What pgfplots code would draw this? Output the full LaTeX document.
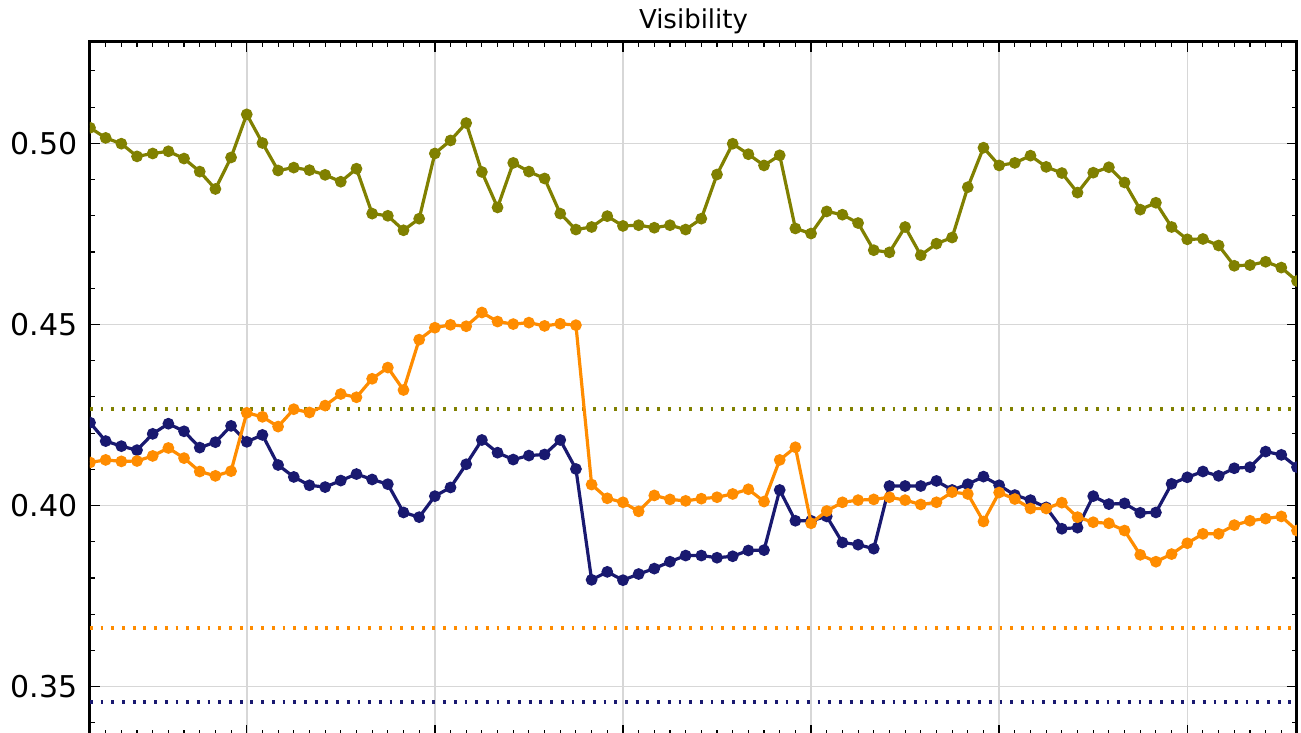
\documentclass[border=0pt]{standalone}
\usepackage{fontspec}
\setmainfont{DejaVu Sans}
\usepackage{pgfplots}
\usepackage{pgfplotstable}
\pgfplotsset{compat=1.18}
\definecolor{cOlive}{RGB}{128,128,0}
\definecolor{cNavy}{RGB}{25,25,112}
\definecolor{cOrange}{RGB}{255,140,0}
\definecolor{cGrid}{RGB}{215,215,215}
\pgfplotstableread{
x o n r
0 0.5043 0.4229 0.4119
1 0.5015 0.4178 0.4126
2 0.4999 0.4164 0.4122
3 0.4964 0.4153 0.4123
4 0.4972 0.4198 0.4137
5 0.4978 0.4226 0.4159
6 0.4958 0.4205 0.4131
7 0.4922 0.4160 0.4094
8 0.4874 0.4175 0.4082
9 0.4961 0.4220 0.4095
10 0.5080 0.4176 0.4256
11 0.5001 0.4195 0.4245
12 0.4925 0.4112 0.4218
13 0.4933 0.4079 0.4266
14 0.4926 0.4056 0.4257
15 0.4913 0.4051 0.4276
16 0.4894 0.4069 0.4308
17 0.4930 0.4087 0.4299
18 0.4806 0.4072 0.4350
19 0.4800 0.4059 0.4381
20 0.4760 0.3981 0.4319
21 0.4792 0.3968 0.4458
22 0.4972 0.4026 0.4491
23 0.5008 0.4050 0.4499
24 0.5056 0.4114 0.4495
25 0.4921 0.4181 0.4533
26 0.4823 0.4146 0.4508
27 0.4946 0.4127 0.4501
28 0.4922 0.4138 0.4505
29 0.4903 0.4141 0.4496
30 0.4806 0.4181 0.4502
31 0.4762 0.4101 0.4498
32 0.4769 0.3795 0.4058
33 0.4799 0.3817 0.4020
34 0.4772 0.3794 0.4009
35 0.4774 0.3811 0.3984
36 0.4767 0.3826 0.4028
37 0.4774 0.3845 0.4017
38 0.4762 0.3862 0.4013
39 0.4792 0.3862 0.4019
40 0.4914 0.3856 0.4023
41 0.4999 0.3860 0.4032
42 0.4970 0.3876 0.4045
43 0.4939 0.3877 0.4011
44 0.4967 0.4043 0.4126
45 0.4765 0.3958 0.4161
46 0.4751 0.3958 0.3951
47 0.4812 0.3970 0.3985
48 0.4803 0.3898 0.4009
49 0.4780 0.3892 0.4015
50 0.4705 0.3881 0.4017
51 0.4699 0.4054 0.4023
52 0.4769 0.4054 0.4015
53 0.4691 0.4054 0.4003
54 0.4723 0.4068 0.4009
55 0.4740 0.4043 0.4037
56 0.4879 0.4059 0.4032
57 0.4988 0.4080 0.3956
58 0.4939 0.4056 0.4036
59 0.4946 0.4029 0.4018
60 0.4966 0.4015 0.3992
61 0.4935 0.3995 0.3992
62 0.4918 0.3936 0.4008
63 0.4864 0.3939 0.3968
64 0.4919 0.4026 0.3954
65 0.4934 0.4004 0.3951
66 0.4892 0.4006 0.3931
67 0.4817 0.3980 0.3864
68 0.4836 0.3981 0.3845
69 0.4769 0.4060 0.3866
70 0.4735 0.4078 0.3896
71 0.4736 0.4094 0.3922
72 0.4718 0.4082 0.3922
73 0.4662 0.4103 0.3946
74 0.4664 0.4106 0.3958
75 0.4673 0.4149 0.3964
76 0.4657 0.4140 0.3970
77 0.4620 0.4106 0.3931
}\datatable
\begin{document}
\begin{tikzpicture}
\useasboundingbox (0pt,0pt) rectangle (650.5pt,366.5pt);
\begin{axis}[
  name=ax, at={(45pt,-1pt)}, anchor=south west,
  scale only axis, width=603.5pt, height=346.5pt,
  xmin=0, xmax=77, ymin=0.33666, ymax=0.52798,
  xtick={10,22,34,46,58,70}, xticklabels={},
  minor xtick={0,1,...,77},
  ytick={0.35,0.40,0.45,0.50},
  minor ytick={0.34,0.36,0.37,0.38,0.39,0.41,0.42,0.43,0.44,0.46,0.47,0.48,0.49,0.51,0.52},
  /pgf/number format/fixed, /pgf/number format/fixed zerofill,
  /pgf/number format/precision=2, /pgf/number format/assume math mode=true,
  yticklabel style={font=\fontsize{15}{18}\selectfont, inner sep=0pt, xshift=-6pt},
  tick pos=both, tick align=inside,
  major tick length=5pt, minor tick length=2.5pt,
  every tick/.style={black, line width=0.7pt},
  minor tick style={black, line width=0.55pt},
  axis line style={line width=1.5pt},
  grid=major, major grid style={cGrid, line width=0.75pt},
  clip marker paths=true,
]
\addplot[cOlive, line width=1.8pt, dash pattern=on 1.4pt off 3.95pt] coordinates {(0,0.4266) (77,0.4266)};
\addplot[cOrange, line width=1.8pt, dash pattern=on 1.4pt off 3.95pt] coordinates {(0,0.3662) (77,0.3662)};
\addplot[cNavy, line width=1.8pt, dash pattern=on 1.4pt off 3.95pt] coordinates {(0,0.3458) (77,0.3458)};
\addplot[cOlive, line width=1.6pt, mark=*, mark size=2.1pt, mark options={solid}] table[x=x, y=o] {\datatable};
\addplot[cNavy, line width=1.6pt, mark=*, mark size=2.1pt, mark options={solid}] table[x=x, y=n] {\datatable};
\addplot[cOrange, line width=1.6pt, mark=*, mark size=2.1pt, mark options={solid}] table[x=x, y=r] {\datatable};
\end{axis}
\node[font=\fontsize{13}{15}\selectfont, anchor=base] at ([yshift=6.85pt]ax.north) {Visibility};
\end{tikzpicture}
\end{document}
